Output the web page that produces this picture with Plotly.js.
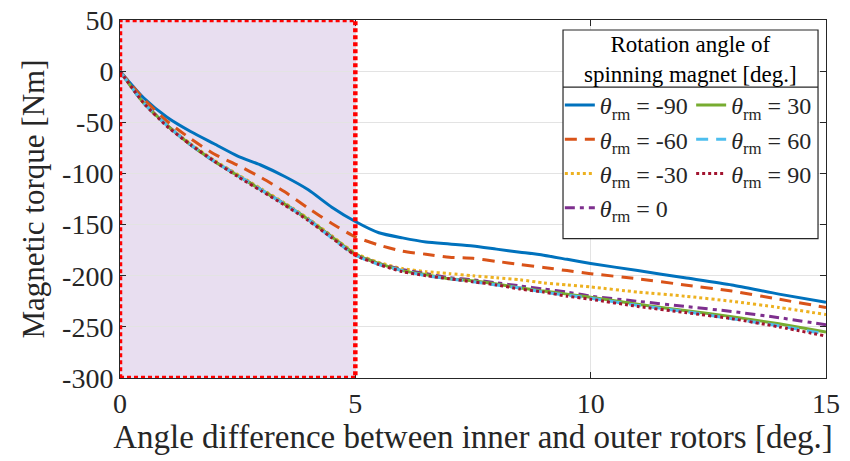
<!DOCTYPE html>
<html>
<head>
<meta charset="utf-8">
<script src="https://cdn.plot.ly/plotly-3.0.1.min.js"></script>
<style>html,body{margin:0;padding:0;background:#fff;}#chart{width:850px;height:461px;}</style>
</head>
<body>
<div id="chart"></div>
<script>
// Angle difference between inner and outer rotors [deg.]
const angle = [0,0.5,1,1.5,2,2.5,3,3.5,4,4.5,5,5.5,6,6.5,7,7.5,8,8.5,9,9.5,10,11,12,13,14,15];
// Magnetic torque [Nm] per rotation angle of spinning magnet
const tq_m90 = [0,-26,-45,-59,-71,-83,-92,-103,-116,-133,-147,-158,-163,-167,-169,-171,-174,-177,-180,-184,-188,-195,-202,-209,-218,-226];
const tq_m60 = [0,-27,-49,-66,-81,-92,-104,-118,-134,-149,-162,-170,-176,-179,-182,-183,-186,-189,-192,-195,-198,-203,-209,-215,-223,-231];
const tq_m30 = [0,-31,-53,-71,-87,-101,-115,-129,-144,-161,-178,-187,-193,-196,-198,-200,-202,-204,-207,-209,-211,-216,-220,-225,-231,-238];
const tq_0   = [0,-31,-53,-72,-88,-102,-116,-130,-145,-162,-179,-188,-194,-198,-202,-204,-207,-210,-213,-216,-220,-225,-230,-235,-241,-248];
const tq_30  = [0,-31,-53,-72,-88,-102,-116,-130,-145,-162,-179,-188,-195,-199,-203,-205,-208,-212,-215,-218,-221,-228,-234,-240,-247,-255];
const tq_60  = [0,-31,-53,-72,-88,-102,-116,-130,-145,-163,-180,-189,-195,-200,-203,-206,-209,-212,-216,-219,-222,-229,-235,-242,-249,-257];
const tq_90  = [0,-31,-54,-72,-88,-103,-117,-131,-146,-163,-180,-189,-196,-200,-203,-206,-209,-213,-216,-220,-223,-230,-236,-242,-250,-259];
const seriesNames = ['-90','-60','-30','0','30','60','90'];
const xTicks = [0,5,10,15];
const yTicks = [50,0,-50,-100,-150,-200,-250,-300];
const shadeRange = [0,5];

const series = [tq_m90,tq_m60,tq_m30,tq_0,tq_30,tq_60,tq_90];
const colors = ['#0072BD','#D95319','#EDB120','#7E2F8E','#77AC30','#4DBEEE','#A2142F'];
const dashes = ['solid','12px,8px','3px,3px','10px,5px,4px,5px','solid','12px,8px','3px,3px'];
const legendOf = ['legend','legend','legend','legend','legend2','legend2','legend2'];

const FONT = 'Liberation Serif, Times New Roman, serif';
const traces = series.map((y,i)=>({
  x: angle, y: y, type:'scatter', mode:'lines',
  name: '<i>θ</i><sub>rm</sub> = ' + seriesNames[i],
  legend: legendOf[i],
  line: {color: colors[i], width: 3, dash: dashes[i], shape:'spline', smoothing:0.6}
}));

const axisCommon = {
  showline:true, linecolor:'#262626', linewidth:1, mirror:'ticks',
  ticks:'inside', ticklen:6, tickcolor:'#262626',
  showgrid:true, gridcolor:'#e3e3e3', gridwidth:1, zeroline:false,
  tickfont:{family:FONT, size:28, color:'#262626'}
};

const layout = {
  width:850, height:461,
  margin:{l:120, r:24, t:20, b:83},
  paper_bgcolor:'#fff', plot_bgcolor:'#fff',
  font:{family:FONT, color:'#262626'},
  xaxis: Object.assign({}, axisCommon, {
    range:[0,15], tickvals:xTicks, ticktext:xTicks.map(String),
    title:{text:'Angle difference between inner and outer rotors [deg.]', font:{family:FONT,size:33,color:'#262626'}, standoff:6}
  }),
  yaxis: Object.assign({}, axisCommon, {
    range:[-300,50], tickvals:yTicks, ticktext:yTicks.map(String),
    title:{text:'Magnetic torque [Nm]', font:{family:FONT,size:31,color:'#262626'}, standoff:8}
  }),
  showlegend:true,
  legend:{x:0.623, y:0.824, xanchor:'left', yanchor:'top', bgcolor:'rgba(0,0,0,0)', borderwidth:0,
          font:{family:FONT, size:24, color:'#262626'}, itemwidth:30},
  legend2:{x:0.809, y:0.824, xanchor:'left', yanchor:'top', bgcolor:'rgba(0,0,0,0)', borderwidth:0,
          font:{family:FONT, size:24, color:'#262626'}, itemwidth:30},
  shapes:[
    {type:'rect', xref:'x', yref:'y', x0:shadeRange[0], x1:shadeRange[1], y0:-300, y1:50,
     fillcolor:'#E8DEF0', line:{width:0}, layer:'below'},
    {type:'rect', xref:'x', yref:'y', x0:shadeRange[0], x1:shadeRange[1], y0:-300, y1:50,
     fillcolor:'rgba(0,0,0,0)', line:{color:'#FF0000', width:4.5, dash:'4px,3px'}, layer:'above'},
    {type:'rect', xref:'paper', yref:'paper', x0:0.6275, x1:0.9887, y0:0.3894, y1:0.972,
     fillcolor:'#ffffff', line:{color:'#262626', width:1.2}, layer:'above'},
    {type:'line', xref:'paper', yref:'paper', x0:0.6275, x1:0.9887, y0:0.8123, y1:0.8123,
     line:{color:'#262626', width:1.2}, layer:'above'}
  ],
  annotations:[
    {xref:'paper', yref:'paper', x:0.8083, y:0.8908, xanchor:'center', yanchor:'middle', align:'center', showarrow:false,
     text:'Rotation angle of<br>spinning magnet [deg.]', font:{family:FONT, size:23, color:'#000'}}
  ]
};

Plotly.newPlot('chart', traces, layout, {staticPlot:true, displayModeBar:false});
</script>
</body>
</html>
